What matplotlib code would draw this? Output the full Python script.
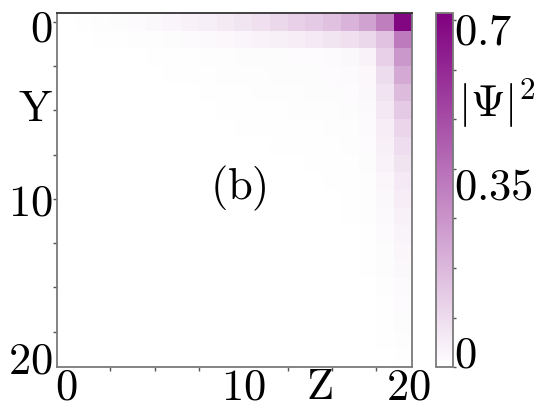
import numpy as np
import matplotlib
matplotlib.use("Agg")
import matplotlib.pyplot as plt
from matplotlib.colors import LinearSegmentedColormap

plt.rcParams['mathtext.fontset'] = 'cm'
plt.rcParams['font.family'] = ['DejaVu Serif']

# |Psi|^2 on a 20x20 lattice, rows = Y (0..19), columns = Z (0..19)
row_00 = [0.002, 0.004, 0.007, 0.010, 0.015, 0.021, 0.028, 0.037, 0.047, 0.060, 0.075, 0.090, 0.110, 0.130, 0.150, 0.175, 0.210, 0.260, 0.360, 0.700]
row_01 = [0.001, 0.002, 0.003, 0.004, 0.006, 0.008, 0.011, 0.014, 0.018, 0.023, 0.029, 0.036, 0.044, 0.053, 0.063, 0.075, 0.090, 0.110, 0.170, 0.370]
row_02 = [0.001, 0.001, 0.001, 0.001, 0.002, 0.003, 0.004, 0.005, 0.006, 0.008, 0.009, 0.010, 0.011, 0.012, 0.013, 0.015, 0.020, 0.035, 0.130, 0.290]
row_03 = [0.001, 0.001, 0.001, 0.001, 0.001, 0.002, 0.003, 0.004, 0.005, 0.006, 0.007, 0.008, 0.009, 0.010, 0.011, 0.012, 0.015, 0.025, 0.100, 0.240]
row_04 = [0.000, 0.001, 0.001, 0.001, 0.001, 0.001, 0.001, 0.002, 0.003, 0.004, 0.005, 0.006, 0.007, 0.008, 0.009, 0.010, 0.012, 0.020, 0.080, 0.190]
row_05 = [0.000, 0.000, 0.001, 0.001, 0.001, 0.001, 0.001, 0.001, 0.002, 0.003, 0.004, 0.005, 0.005, 0.006, 0.007, 0.008, 0.010, 0.017, 0.065, 0.150]
row_06 = [0.000, 0.000, 0.000, 0.001, 0.001, 0.001, 0.001, 0.001, 0.001, 0.002, 0.003, 0.003, 0.004, 0.005, 0.005, 0.006, 0.008, 0.014, 0.052, 0.120]
row_07 = [0.000, 0.000, 0.000, 0.000, 0.001, 0.001, 0.001, 0.001, 0.001, 0.001, 0.002, 0.002, 0.003, 0.003, 0.004, 0.005, 0.006, 0.012, 0.042, 0.095]
row_08 = [0.000, 0.000, 0.000, 0.000, 0.000, 0.000, 0.001, 0.001, 0.001, 0.001, 0.001, 0.002, 0.002, 0.002, 0.003, 0.004, 0.005, 0.010, 0.034, 0.078]
row_09 = [0.000, 0.000, 0.000, 0.000, 0.000, 0.000, 0.000, 0.000, 0.001, 0.001, 0.001, 0.001, 0.001, 0.002, 0.002, 0.003, 0.004, 0.008, 0.027, 0.063]
row_10 = [0.000, 0.000, 0.000, 0.000, 0.000, 0.000, 0.000, 0.000, 0.000, 0.001, 0.001, 0.001, 0.001, 0.001, 0.002, 0.002, 0.003, 0.007, 0.022, 0.051]
row_11 = [0.000, 0.000, 0.000, 0.000, 0.000, 0.000, 0.000, 0.000, 0.000, 0.000, 0.000, 0.001, 0.001, 0.001, 0.001, 0.002, 0.003, 0.006, 0.018, 0.041]
row_12 = [0.000, 0.000, 0.000, 0.000, 0.000, 0.000, 0.000, 0.000, 0.000, 0.000, 0.000, 0.000, 0.001, 0.001, 0.001, 0.001, 0.002, 0.005, 0.014, 0.033]
row_13 = [0.000, 0.000, 0.000, 0.000, 0.000, 0.000, 0.000, 0.000, 0.000, 0.000, 0.000, 0.000, 0.000, 0.001, 0.001, 0.001, 0.002, 0.004, 0.011, 0.026]
row_14 = [0.000, 0.000, 0.000, 0.000, 0.000, 0.000, 0.000, 0.000, 0.000, 0.000, 0.000, 0.000, 0.000, 0.000, 0.001, 0.001, 0.001, 0.003, 0.009, 0.021]
row_15 = [0.000, 0.000, 0.000, 0.000, 0.000, 0.000, 0.000, 0.000, 0.000, 0.000, 0.000, 0.000, 0.000, 0.000, 0.000, 0.001, 0.001, 0.002, 0.007, 0.016]
row_16 = [0.000, 0.000, 0.000, 0.000, 0.000, 0.000, 0.000, 0.000, 0.000, 0.000, 0.000, 0.000, 0.000, 0.000, 0.000, 0.000, 0.001, 0.002, 0.005, 0.012]
row_17 = [0.000, 0.000, 0.000, 0.000, 0.000, 0.000, 0.000, 0.000, 0.000, 0.000, 0.000, 0.000, 0.000, 0.000, 0.000, 0.000, 0.000, 0.001, 0.004, 0.009]
row_18 = [0.000, 0.000, 0.000, 0.000, 0.000, 0.000, 0.000, 0.000, 0.000, 0.000, 0.000, 0.000, 0.000, 0.000, 0.000, 0.000, 0.000, 0.001, 0.003, 0.006]
row_19 = [0.000, 0.000, 0.000, 0.000, 0.000, 0.000, 0.000, 0.000, 0.000, 0.000, 0.000, 0.000, 0.000, 0.000, 0.000, 0.000, 0.000, 0.001, 0.002, 0.004]

rows = [row_00, row_01, row_02, row_03, row_04, row_05, row_06, row_07, row_08, row_09,
        row_10, row_11, row_12, row_13, row_14, row_15, row_16, row_17, row_18, row_19]

x_tick_labels = ['$0$', '$10$', '$20$']
y_tick_labels = ['$0$', '$10$', '$20$']
cbar_tick_labels = ['$0$', '$0.35$', '$0.7$']
x_label = '$\\mathrm{Z}$'
y_label = '$\\mathrm{Y}$'
cbar_label = '$|\\Psi|^2$'
panel_label = '$\\mathrm{(b)}$'

vmax = 0.715
FS = 32

cmap = LinearSegmentedColormap.from_list('wp', ['#ffffff', '#800080'])

fig = plt.figure(figsize=(5.49, 4.12), dpi=100)
ax = fig.add_axes([0.1038, 0.1092, 0.6466, 0.8592])
cax = fig.add_axes([0.7936, 0.1092, 0.031, 0.8592])

data = np.array(rows)
im = ax.imshow(data, cmap=cmap, vmin=0, vmax=vmax, interpolation='nearest',
               aspect='auto', origin='upper', extent=(-0.5, 19.5, 19.5, -0.5))

spine_col = '#7a7a7a'
for s in ax.spines.values():
    s.set_color(spine_col)
    s.set_linewidth(1.3)
ax.spines['top'].set_color('#333333')

# minor tick marks every 2.5
ax.set_xticks(np.arange(0, 19, 2.5), minor=True)
ax.set_yticks(np.arange(0, 19, 2.5), minor=True)
ax.tick_params(which='minor', length=3, width=1.0, color='#555555', direction='out')

# labels
ax.set_xticks([0, 10, 19.27])
ax.set_xticklabels(x_tick_labels)
ax.set_yticks([0.15, 9.95, 18.9])
ax.set_yticklabels(y_tick_labels)
ax.tick_params(which='major', length=0, labelsize=FS)
ax.tick_params(axis='x', which='major', pad=-1.0)
ax.tick_params(axis='y', which='major', pad=3)
ax.set_xlim(-0.5, 19.5)
ax.set_ylim(19.5, -0.5)

ax.text(-1.7, 4.9, y_label, fontsize=FS, ha='center', va='center', transform=ax.transData, clip_on=False)
ax.text(14.3, 20.6, x_label, fontsize=FS, ha='center', va='center', transform=ax.transData, clip_on=False)
ax.text(9.7, 9.4, panel_label, fontsize=FS, ha='center', va='center')

cb = fig.colorbar(im, cax=cax)
cb.outline.set_edgecolor(spine_col)
cb.outline.set_linewidth(1.3)
cax.yaxis.set_ticks(np.arange(0, 0.71, 0.1), minor=True)
cax.tick_params(which='minor', length=2, width=1.0, color='#555555', direction='out')
cax.yaxis.set_ticks([0.034, 0.372, 0.685])
cax.yaxis.set_ticklabels(cbar_tick_labels)
cax.tick_params(which='major', length=0, labelsize=FS, pad=1)
cax.text(3.55, 0.745, cbar_label, fontsize=FS, ha='center', va='center', transform=cax.transAxes)

fig.savefig('out.png', dpi=100)
